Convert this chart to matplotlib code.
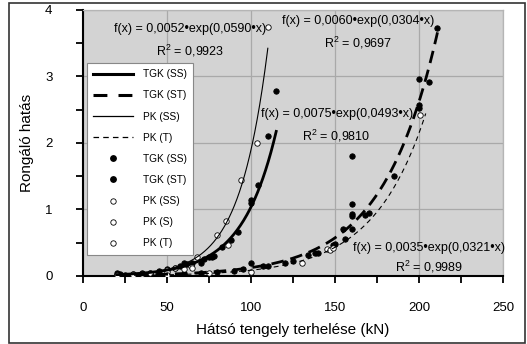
import numpy as np
import matplotlib.pyplot as plt
from matplotlib.lines import Line2D
from matplotlib.patches import Rectangle

plt.rcParams['font.family'] = ['Liberation Sans', 'DejaVu Sans']
plt.rcParams['lines.scale_dashes'] = False

# illesztett exponenciális görbék: a*exp(b*x), x tartomány
fit_tgk_ss = (0.0075, 0.0493, 20, 115)
fit_tgk_st = (0.0060, 0.0304, 20, 211)
fit_pk_ss = (0.0052, 0.0590, 20, 110)
fit_pk_t = (0.0035, 0.0321, 20, 204)

# mért pontok
tgk_ss_x = [20, 22, 25, 30, 35, 40, 45, 50, 55, 58, 60, 62, 65, 70, 72, 75, 77, 78, 83, 88, 92, 100, 100, 104, 110, 115]
tgk_ss_y = [0.04, 0.03, 0.02, 0.03, 0.05, 0.04, 0.07, 0.10, 0.12, 0.15, 0.20, 0.18, 0.20, 0.20, 0.26, 0.28, 0.29, 0.30, 0.44, 0.54, 0.66, 1.15, 1.10, 1.37, 2.11, 2.78]

tgk_st_x = [20, 30, 40, 60, 70, 80, 90, 95, 100, 107, 110, 120, 125, 134, 138, 140, 149, 150, 155, 156,
            160, 160, 160, 160, 160, 168, 170, 185, 200, 200, 200, 206, 211]
tgk_st_y = [0.02, 0.01, 0.02, 0.03, 0.05, 0.06, 0.08, 0.10, 0.19, 0.15, 0.15, 0.20, 0.22, 0.31, 0.34, 0.35, 0.47, 0.48, 0.71, 0.56,
            1.80, 1.09, 0.93, 0.90, 0.71, 0.92, 0.95, 1.51, 2.96, 2.57, 2.53, 2.91, 3.73]

pk_ss_x = [20, 30, 40, 50, 55, 60, 64, 68, 80, 85, 94, 103.6, 110]
pk_ss_y = [0.02, 0.03, 0.05, 0.09, 0.12, 0.10, 0.15, 0.29, 0.62, 0.82, 1.45, 2.00, 3.74]

pk_s_x = [35, 50, 65, 86.6]
pk_s_y = [0.03, 0.06, 0.12, 0.47]

pk_t_x = [20, 30, 50, 75, 100, 130.6, 145, 147, 148.6, 200.5]
pk_t_y = [0.01, 0.01, 0.02, 0.04, 0.06, 0.20, 0.40, 0.39, 0.42, 2.42]

fig = plt.figure(figsize=(5.27, 3.44), dpi=100)
ax = fig.add_axes([0.1575, 0.1977, 0.797, 0.7733])
fig.patches.append(Rectangle((0.017, 0.004), 0.979, 0.988, transform=fig.transFigure,
                             fill=False, edgecolor='#333333', linewidth=1.2))

ax.set_facecolor('#d3d3d3')


def curve(fit):
    a, b, x0, x1 = fit
    x = np.linspace(x0, x1, 300)
    return x, a * np.exp(b * x)


# pontok
dot = dict(linestyle='none', marker='o', markersize=3.9, markeredgewidth=0.6, zorder=3)
ax.plot(tgk_ss_x, tgk_ss_y, color='black', **dot)
ax.plot(tgk_st_x, tgk_st_y, color='black', **dot)
for xs, ys in [(pk_ss_x, pk_ss_y), (pk_s_x, pk_s_y), (pk_t_x, pk_t_y)]:
    ax.plot(xs, ys, color='black', markerfacecolor='white', **dot)

# görbék
x, y = curve(fit_tgk_ss)
ax.plot(x, y, color='black', linewidth=2.0, zorder=4)
x, y = curve(fit_tgk_st)
ax.plot(x, y, color='black', linewidth=2.0, dashes=(9, 5), zorder=4)
x, y = curve(fit_pk_ss)
ax.plot(x, y, color='black', linewidth=0.8, zorder=4)
x, y = curve(fit_pk_t)
ax.plot(x, y, color='black', linewidth=0.8, dashes=(3.5, 2.8), zorder=4)

# egyenletek
fs = 9
ax.text(64, 3.71, 'f(x) = 0,0052•exp(0,0590•x)', ha='center', va='center', fontsize=fs)
ax.text(64, 3.38, r'R$^{\mathregular{2}}$ = 0,9923', ha='center', va='center', fontsize=fs)
ax.text(164, 3.83, 'f(x) = 0,0060•exp(0,0304•x)', ha='center', va='center', fontsize=fs)
ax.text(164, 3.50, r'R$^{\mathregular{2}}$ = 0,9697', ha='center', va='center', fontsize=fs)
ax.text(151, 2.43, 'f(x) = 0,0075•exp(0,0493•x)', ha='center', va='center', fontsize=fs)
ax.text(151, 2.11, r'R$^{\mathregular{2}}$ = 0,9810', ha='center', va='center', fontsize=fs)
ax.text(206, 0.42, 'f(x) = 0,0035•exp(0,0321•x)', ha='center', va='center', fontsize=fs)
ax.text(206, 0.13, r'R$^{\mathregular{2}}$ = 0,9989', ha='center', va='center', fontsize=fs)

ax.set_xlim(0, 250)
ax.set_ylim(0, 4)
ax.set_xticks(np.arange(0, 251, 50))
ax.set_xticks(np.arange(0, 251, 25), minor=True)
ax.set_yticks(np.arange(0, 5, 1))
ax.set_yticks(np.arange(0, 4.1, 0.5), minor=True)
ax.grid(True, which='major', color='#a9a9a9', linewidth=0.9)
ax.set_axisbelow(True)

ax.tick_params(axis='both', which='both', direction='out', length=5, width=1.3, labelsize=9.5)
ax.tick_params(axis='x', pad=14)
ax.tick_params(axis='y', pad=17)
for s in ['left', 'bottom']:
    ax.spines[s].set_linewidth(1.5)
for s in ['top', 'right']:
    ax.spines[s].set_color('#b5b5b5')
    ax.spines[s].set_linewidth(0.9)

ax.set_xlabel('Hátsó tengely terhelése (kN)', fontsize=11, labelpad=6)
ax.set_ylabel('Rongáló hatás', fontsize=11, labelpad=8)

handles = [
    Line2D([], [], color='black', linewidth=2.2),
    Line2D([], [], color='black', linewidth=2.2, dashes=(10, 8)),
    Line2D([], [], color='black', linewidth=0.9),
    Line2D([], [], color='black', linewidth=0.9, dashes=(4, 3)),
    Line2D([], [], color='black', linestyle='none', marker='o', markersize=3.9),
    Line2D([], [], color='black', linestyle='none', marker='o', markersize=3.9),
    Line2D([], [], color='black', linestyle='none', marker='o', markersize=3.9, markerfacecolor='white', markeredgewidth=0.6),
    Line2D([], [], color='black', linestyle='none', marker='o', markersize=3.9, markerfacecolor='white', markeredgewidth=0.6),
    Line2D([], [], color='black', linestyle='none', marker='o', markersize=3.9, markerfacecolor='white', markeredgewidth=0.6),
]
labels = ['TGK (SS)', 'TGK (ST)', 'PK (SS)', 'PK (T)', 'TGK (SS)', 'TGK (ST)', 'PK (SS)', 'PK (S)', 'PK (T)']
leg = ax.legend(handles, labels, loc='upper left', bbox_to_anchor=(0.0095, 0.80), borderaxespad=0,
                fontsize=7.3, labelspacing=1.1, handlelength=3.9, handletextpad=1.0, numpoints=1,
                fancybox=False, framealpha=1, edgecolor='#888888', borderpad=0.6)
leg.get_frame().set_linewidth(0.8)
leg.set_zorder(5)

fig.savefig('out.png', dpi=100)
